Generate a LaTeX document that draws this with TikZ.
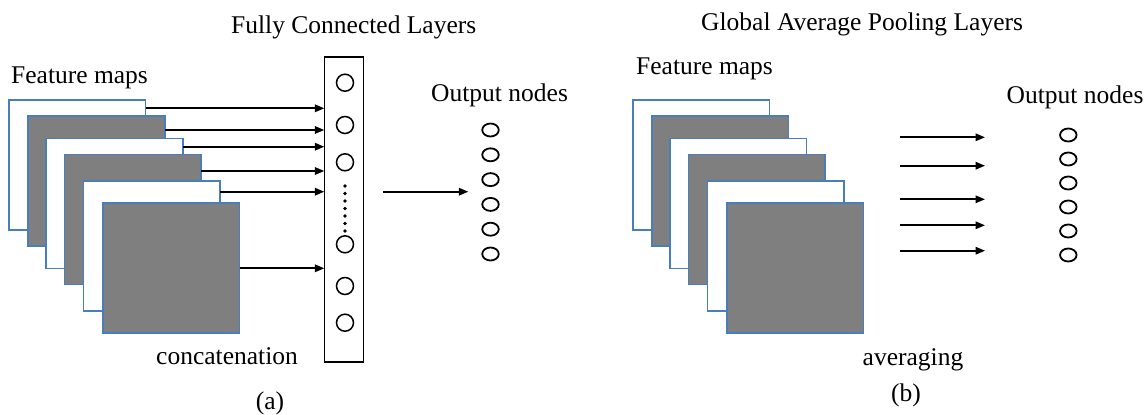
\documentclass[tikz,border=0pt]{standalone}
\usepackage{fontspec}
\setmainfont{Liberation Serif}
\usetikzlibrary{arrows.meta,shapes.geometric}
\definecolor{mapgray}{HTML}{7F7F7F}
\definecolor{mapblue}{HTML}{4A7EBB}
\begin{document}
\begin{tikzpicture}[x=1bp,y=-1bp,
  fmap/.style={draw=mapblue, line width=1.5bp, minimum width=136.5bp, minimum height=130bp, inner sep=0, outer sep=0},
  wmap/.style={fmap, fill=white},
  gmap/.style={fmap, fill=mapgray},
  arr/.style={line width=1.7bp, -{Triangle[length=9.5bp,width=7.5bp]}},
  lbl/.style={inner sep=0, font=\fontsize{25.6}{30}\selectfont},
  neuron/.style={circle, draw, line width=1.5bp, minimum size=17bp, inner sep=0},
  onode/.style={ellipse, draw, line width=1.8bp, minimum width=16.5bp, minimum height=13bp, inner sep=0},
  fdot/.style={circle, fill, inner sep=0, minimum size=3.8bp}
]
\useasboundingbox (0,0) rectangle (1148,414);

% ---------- panel (a) ----------
\node[lbl, anchor=base west] (ta) at (231,33) {Fully Connected Layers};
\node[lbl, anchor=base west] (fma) at (11,83) {Feature maps};

\node[wmap] (a1) at (77.4,165) {};
\node[gmap] (a2) at (96.5,181) {};
\node[wmap] (a3) at (114.5,203.5) {};
\node[gmap] (a4) at (132.9,219.3) {};
\node[wmap] (a5) at (151.9,245.9) {};
\node[gmap] (a6) at (171.4,267.9) {};

\node[draw, line width=1.6bp, fill=white, minimum width=39bp, minimum height=305bp, inner sep=0, outer sep=0] (fc) at (343.8,209.2) {};

\foreach \i/\y in {1/82.7,2/125,3/162.3,4/244.3,5/286,6/322.7}
  \node[neuron] (n\i) at (345,\y) {};
\foreach \i in {0,...,6}
  \node[fdot] (d\i) at (345,186+7.5*\i) {};

\draw[arr] (a1.east |- 0,108.3) -- (fc.west |- 0,108.3);
\draw[arr] (a2.east |- 0,130) -- (fc.west |- 0,130);
\draw[arr] (a3.east |- 0,146.7) -- (fc.west |- 0,146.7);
\draw[arr] (a4.east |- 0,171) -- (fc.west |- 0,171);
\draw[arr] (a5.east |- 0,191.7) -- (fc.west |- 0,191.7);
\draw[arr] (a6.east |- 0,268.3) -- (fc.west |- 0,268.3);

\node[lbl, anchor=base west] (ona) at (431,101.7) {Output nodes};
\foreach \i in {1,...,6}
  \node[onode] (oa\i) at (490.5,130+24.8*\i-24.8) {};
\coordinate (fa1) at (383.3,191.7);
\coordinate (fa2) at (468.3,191.7);
\draw[arr] (fa1) -- (fa2);

\node[lbl, anchor=base west] (cat) at (156,364) {concatenation};
\node[lbl, anchor=base] (la) at (270,409) {(a)};

% ---------- panel (b) ----------
\node[lbl, anchor=base west] (tb) at (701,30) {Global Average Pooling Layers};
\node[lbl, anchor=base west] (fmb) at (636,74) {Feature maps};

\node[wmap] (b1) at (701.1,165) {};
\node[gmap] (b2) at (720.2,181) {};
\node[wmap] (b3) at (738.2,203.5) {};
\node[gmap] (b4) at (756.6,219.3) {};
\node[wmap] (b5) at (775.6,245.9) {};
\node[gmap] (b6) at (795.1,267.9) {};

\foreach \i/\y in {1/137.3,2/165.7,3/199.3,4/225.3,5/250.7} {
  \coordinate (bs\i) at (900,\y);
  \coordinate (be\i) at (985,\y);
  \draw[arr] (bs\i) -- (be\i);
}

\node[lbl, anchor=base west] (onb) at (1006.5,103.3) {Output nodes};
\foreach \i in {1,...,6}
  \node[onode] (ob\i) at (1068.3,135+24*\i-24) {};

\node[lbl, anchor=base west] (avg) at (862.5,365) {averaging};
\node[lbl, anchor=base] (lb) at (906,401) {(b)};
\end{tikzpicture}
\end{document}
